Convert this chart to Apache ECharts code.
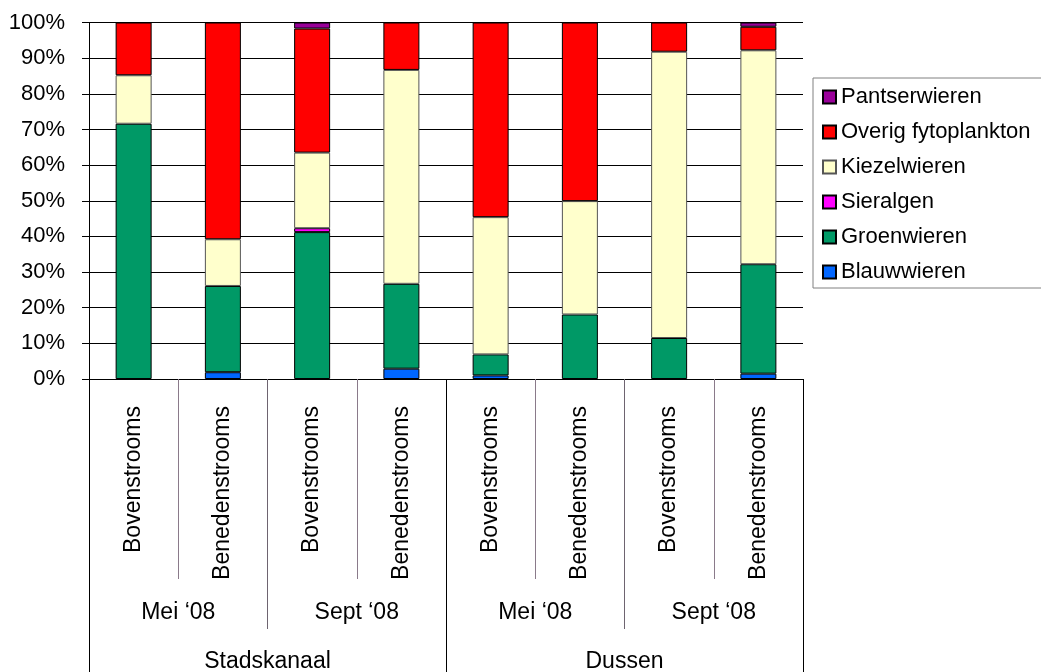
<!DOCTYPE html>
<html>
<head>
<meta charset="utf-8">
<script src="https://cdn.jsdelivr.net/npm/echarts@6/dist/echarts.min.js"></script>
<style>
  html, body { margin: 0; padding: 0; background: #fff; }
  #chart { width: 1041px; height: 672px; }
</style>
</head>
<body>
<div id="chart"></div>
<script>
// Sampling locations (innermost level), sampling rounds and canals
const locations = ['Bovenstrooms', 'Benedenstrooms', 'Bovenstrooms', 'Benedenstrooms',
                   'Bovenstrooms', 'Benedenstrooms', 'Bovenstrooms', 'Benedenstrooms'];
const rounds = ['Mei \u201808', 'Sept \u201808', 'Mei \u201808', 'Sept \u201808'];
const canals = ['Stadskanaal', 'Dussen'];

// Share of each algae group (percent of total)
const blauwwieren   = [0, 1.9, 0, 2.9, 1.0, 0, 0, 1.5];
const groenwieren   = [71.6, 24.2, 41.2, 23.8, 5.9, 18.1, 11.5, 30.7];
const sieralgen     = [0, 0, 1.1, 0, 0, 0, 0, 0];
const kiezelwieren  = [13.6, 13.1, 21.2, 60.0, 38.5, 31.8, 80.3, 60.0];
const overig        = [14.8, 60.8, 34.8, 13.3, 54.6, 50.1, 8.2, 6.6];
const pantserwieren = [0, 0, 1.7, 0, 0, 0, 0, 1.2];

const yTicks = [0, 10, 20, 30, 40, 50, 60, 70, 80, 90, 100];

const FONT = "'Liberation Sans', Arial, sans-serif";
const FS = 22;
const FSX = 23;

const groups = [
  { name: 'Blauwwieren', data: blauwwieren, color: '#0066FF', border: '#000' },
  { name: 'Groenwieren', data: groenwieren, color: '#009966', border: '#000' },
  { name: 'Sieralgen', data: sieralgen, color: '#FF00FF', border: '#000' },
  { name: 'Kiezelwieren', data: kiezelwieren, color: '#FFFFCC', border: '#555' },
  { name: 'Overig fytoplankton', data: overig, color: '#FF0000', border: '#000' },
  { name: 'Pantserwieren', data: pantserwieren, color: '#990099', border: '#000' }
];

const chart = echarts.init(document.getElementById('chart'), null, { renderer: 'canvas' });

chart.setOption({
  animation: false,
  textStyle: { fontFamily: FONT, color: '#000' },
  grid: { left: 89, right: 238, top: 22.5, bottom: 293, containLabel: false, outerBoundsMode: 'none' },
  graphic: [{
    type: 'rect',
    shape: { x: 813, y: 78, width: 240, height: 210 },
    style: { fill: '#fff', stroke: '#808080', lineWidth: 1 },
    z: 0
  }],
  legend: {
    orient: 'vertical',
    left: 817,
    top: 81,
    itemWidth: 13,
    itemHeight: 13,
    itemGap: 13,
    icon: 'rect',
    data: groups.map(g => g.name).reverse(),
    textStyle: { fontFamily: FONT, fontSize: FS, color: '#000', lineHeight: 22 },
    z: 5
  },
  xAxis: [
    {
      type: 'category',
      data: locations,
      position: 'bottom',
      axisLine: { show: true, lineStyle: { color: '#000', width: 1 } },
      axisTick: { show: true, interval: 0, length: 200, lineStyle: { color: '#8a7a8a', width: 1 } },
      axisLabel: { interval: 0, rotate: 90, margin: 27, fontSize: FSX, fontFamily: FONT, color: '#000' }
    },
    {
      type: 'category',
      data: rounds,
      position: 'bottom',
      axisLine: { show: false },
      axisTick: { show: true, interval: 0, length: 250, lineStyle: { color: '#6e6470', width: 1 } },
      axisLabel: { interval: 0, margin: 234, verticalAlign: 'middle', fontSize: FSX, fontFamily: FONT, color: '#000' }
    },
    {
      type: 'category',
      data: canals,
      position: 'bottom',
      axisLine: { show: false },
      axisTick: { show: true, interval: 0, length: 300, lineStyle: { color: '#000', width: 1 } },
      axisLabel: { interval: 0, margin: 283, verticalAlign: 'middle', fontSize: FSX, fontFamily: FONT, color: '#000' }
    }
  ],
  yAxis: {
    type: 'value',
    min: yTicks[0],
    max: yTicks[yTicks.length - 1],
    interval: 10,
    axisLine: { show: true, lineStyle: { color: '#000', width: 1 } },
    axisTick: { show: true, length: 7, lineStyle: { color: '#000' } },
    axisLabel: { formatter: '{value}%', margin: 24, fontSize: FS, fontFamily: FONT, color: '#000' },
    splitLine: { show: true, lineStyle: { color: '#000', width: 1 } }
  },
  series: groups.map(g => ({
    name: g.name,
    type: 'bar',
    stack: 'total',
    xAxisIndex: 0,
    barWidth: 36,
    data: g.data.map(v => (v === 0 ? '-' : v)),
    itemStyle: { color: g.color, borderColor: g.border, borderWidth: 1 },
    emphasis: { disabled: true }
  }))
});
</script>
</body>
</html>
